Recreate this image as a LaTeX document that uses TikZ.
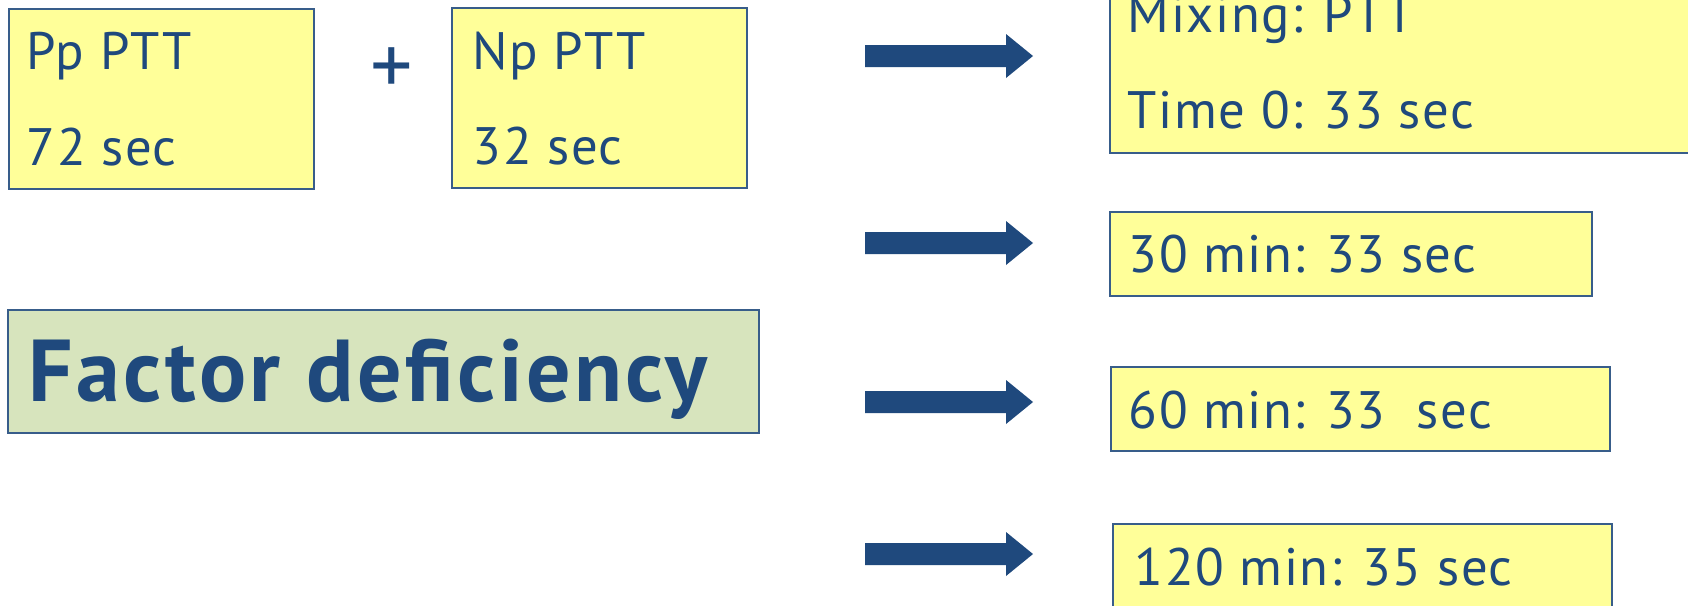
\documentclass[tikz,border=0pt]{standalone}
\usepackage{fontspec}
\setmainfont{PT Sans}
\usetikzlibrary{positioning}
\definecolor{navy}{HTML}{1F497D}
\definecolor{frame}{HTML}{385D8A}
\definecolor{paleyellow}{HTML}{FFFF99}
\definecolor{palegreen}{HTML}{D7E4BD}
\tikzset{
  ybox/.style={draw=frame, fill=paleyellow, line width=0.6pt, anchor=north west, inner sep=0pt},
  gbox/.style={ybox, fill=palegreen},
  boxtext/.style={anchor=base west, inner sep=0pt, text=navy,
    font=\fontsize{15}{18}\selectfont\addfontfeatures{LetterSpace=3}},
}

\begin{document}
\begin{tikzpicture}[x=0.1mm,y=-0.1mm]
  \clip (0,0) rectangle (1688,605);
  \fill[white] (0,0) rectangle (1688,605);

  % left column: the two plasmas
  \node[ybox, minimum width=30.55mm, minimum height=18.05mm] (pp) at (7.5,7.5) {};
  \node[boxtext] (pptop) at (26,69) {Pp PTT};
  \node[boxtext] (ppbot) at (26,165) {72 sec};
  \node[text=navy, font=\fontsize{24}{28}\selectfont] (plus) at (392,71) {+};
  \node[ybox, minimum width=29.5mm, minimum height=18.05mm] (np) at (451,6.5) {};
  \node[boxtext] (nptop) at (472,69) {Np PTT};
  \node[boxtext] (npbot) at (472,164) {32 sec};

  \node[gbox, minimum width=75.15mm, minimum height=12.3mm] (fd) at (6.5,309) {};
  \node[boxtext, font=\fontsize{25}{30}\selectfont\bfseries\addfontfeatures{LetterSpace=4}]
    (fdtext) at (28,401) {Factor deficiency};

  % right column: mixing results
  \node[ybox, minimum width=62mm, minimum height=19mm] (mix) at (1109,-38) {};
  \node[boxtext] (mixtop) at (1127,32) {Mixing: PTT};
  \node[boxtext] (mixbot) at (1127,128) {Time 0: 33 sec};
  \node[ybox, minimum width=48.2mm, minimum height=8.4mm] (m30) at (1109,211) {};
  \node[boxtext] (m30text) at (1128,272) {30 min: 33 sec};
  \node[ybox, minimum width=49.9mm, minimum height=8.4mm] (m60) at (1110,366) {};
  \node[boxtext] (m60text) at (1128,428) {60 min: 33~~sec};
  \node[ybox, minimum width=49.9mm, minimum height=11mm] (m120) at (1112,523) {};
  \node[boxtext] (m120text) at (1134,585) {120 min: 35 sec};

  % block arrows
  \foreach \y in {56,243,402,554} {
    \fill[navy] (865,\y-11) -- (1006,\y-11) -- (1006,\y-22) -- (1033,\y)
      -- (1006,\y+22) -- (1006,\y+11) -- (865,\y+11) -- cycle;
  }
\end{tikzpicture}
\end{document}
